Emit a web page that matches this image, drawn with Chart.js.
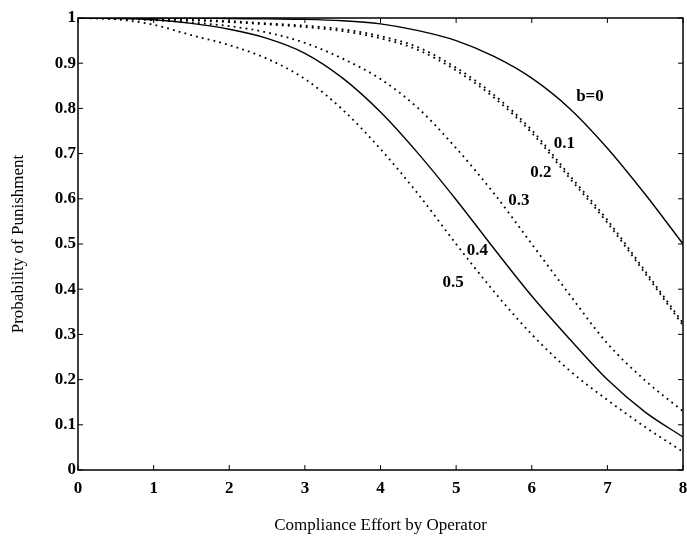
<!DOCTYPE html>
<html>
<head>
<meta charset="utf-8">
<script src="https://cdn.jsdelivr.net/npm/chart.js@4"></script>
<style>
  html, body { margin: 0; padding: 0; background: #fff; }
  #wrap { width: 687px; height: 536px; }
</style>
</head>
<body>
<div id="wrap"><canvas id="chart" width="687" height="536"></canvas></div>
<script>
// compliance effort (x) and probability of punishment for each b
const effort = [0, 0.5, 1, 1.5, 2, 2.5, 3, 3.5, 4, 4.5, 5, 5.5, 6, 6.5, 7, 7.5, 8];
const pB00 = [1.0, 1.0, 1.0, 1.0, 0.999, 0.998, 0.997, 0.994, 0.987, 0.972, 0.95, 0.915, 0.867, 0.8, 0.712, 0.61, 0.50];
const pB01 = [1.0, 0.999, 0.998, 0.996, 0.993, 0.988, 0.983, 0.975, 0.96, 0.935, 0.89, 0.83, 0.752, 0.652, 0.553, 0.44, 0.325];
const pB02 = [1.0, 0.999, 0.997, 0.995, 0.991, 0.986, 0.98, 0.971, 0.955, 0.929, 0.884, 0.824, 0.746, 0.646, 0.547, 0.435, 0.32];
const pB03 = [1.0, 0.999, 0.995, 0.99, 0.982, 0.968, 0.945, 0.91, 0.865, 0.8, 0.712, 0.612, 0.5, 0.388, 0.28, 0.198, 0.13];
const pB04 = [1.0, 0.999, 0.996, 0.988, 0.975, 0.955, 0.922, 0.867, 0.792, 0.7, 0.598, 0.49, 0.385, 0.29, 0.2, 0.128, 0.073];
const pB05 = [1.0, 0.997, 0.985, 0.962, 0.94, 0.91, 0.865, 0.797, 0.71, 0.61, 0.5, 0.395, 0.3, 0.22, 0.155, 0.095, 0.04];

const curveNames = ['b=0', '0.1', '0.2', '0.3', '0.4', '0.5'];
const curveDotted = [false, true, true, true, false, true];
// where each curve label sits, in data units
const labelX = [6.77, 6.43, 6.12, 5.83, 5.28, 4.96];
const labelY = [0.825, 0.723, 0.657, 0.595, 0.485, 0.414];

const series = [pB00, pB01, pB02, pB03, pB04, pB05];

const serif = '"Liberation Serif", "Times New Roman", serif';

const datasets = series.map((vals, i) => ({
  label: curveNames[i],
  data: effort.map((x, j) => ({ x: x, y: vals[j] })),
  borderColor: '#000',
  borderWidth: curveDotted[i] ? 1.8 : 1.4,
  borderDash: curveDotted[i] ? [1.8, 4.2] : [],
  pointRadius: 0,
  fill: false,
  cubicInterpolationMode: 'monotone',
}));

// frame, inward tick marks on all four sides, and the curve labels
const framePlugin = {
  id: 'frame',
  afterDatasetsDraw(chart) {
    const { ctx, chartArea: a, scales } = chart;
    ctx.save();
    ctx.strokeStyle = '#000';
    ctx.lineWidth = 1.5;
    ctx.strokeRect(a.left, a.top, a.right - a.left, a.bottom - a.top);
    ctx.lineWidth = 1;
    ctx.beginPath();
    scales.x.ticks.forEach(t => {
      const px = scales.x.getPixelForValue(t.value);
      ctx.moveTo(px, a.bottom); ctx.lineTo(px, a.bottom - 5);
      ctx.moveTo(px, a.top); ctx.lineTo(px, a.top + 5);
    });
    scales.y.ticks.forEach(t => {
      const py = scales.y.getPixelForValue(t.value);
      ctx.moveTo(a.left, py); ctx.lineTo(a.left + 5, py);
      ctx.moveTo(a.right, py); ctx.lineTo(a.right - 5, py);
    });
    ctx.stroke();

    ctx.fillStyle = '#000';
    ctx.font = 'bold 17px ' + serif;
    ctx.textAlign = 'center';
    ctx.textBaseline = 'middle';
    curveNames.forEach((name, i) => {
      ctx.fillText(name, scales.x.getPixelForValue(labelX[i]), scales.y.getPixelForValue(labelY[i]));
    });
    ctx.restore();
  }
};

new Chart(document.getElementById('chart'), {
  type: 'line',
  data: { datasets },
  options: {
    responsive: false,
    animation: false,
    events: [],
    layout: { padding: { top: 18, right: 4, left: 0, bottom: 0 } },
    plugins: { legend: { display: false }, tooltip: { enabled: false } },
    scales: {
      x: {
        type: 'linear',
        min: 0, max: 8,
        border: { display: false },
        grid: { display: false, drawTicks: false, tickLength: 0 },
        ticks: {
          stepSize: 1,
          padding: 8,
          color: '#000',
          font: { family: serif, size: 17, weight: 'bold' },
          maxRotation: 0,
        },
        title: {
          display: true,
          text: 'Compliance Effort by Operator',
          color: '#000',
          font: { family: serif, size: 17 },
          padding: { top: 0, bottom: 0 },
        },
        afterFit: s => { s.height = 66; s.paddingRight = 0; s.paddingLeft = 0; },
      },
      y: {
        min: 0, max: 1,
        border: { display: false },
        grid: { display: false, drawTicks: false, tickLength: 0 },
        ticks: {
          stepSize: 0.1,
          padding: 2,
          color: '#000',
          font: { family: serif, size: 17, weight: 'bold' },
          callback: v => String(+v.toFixed(1)),
        },
        title: {
          display: true,
          text: 'Probability of Punishment',
          color: '#000',
          font: { family: serif, size: 17 },
          padding: { top: 8, bottom: 0 },
        },
        afterFit: s => { s.width = 78; },
      },
    },
  },
  plugins: [framePlugin],
});
</script>
</body>
</html>
